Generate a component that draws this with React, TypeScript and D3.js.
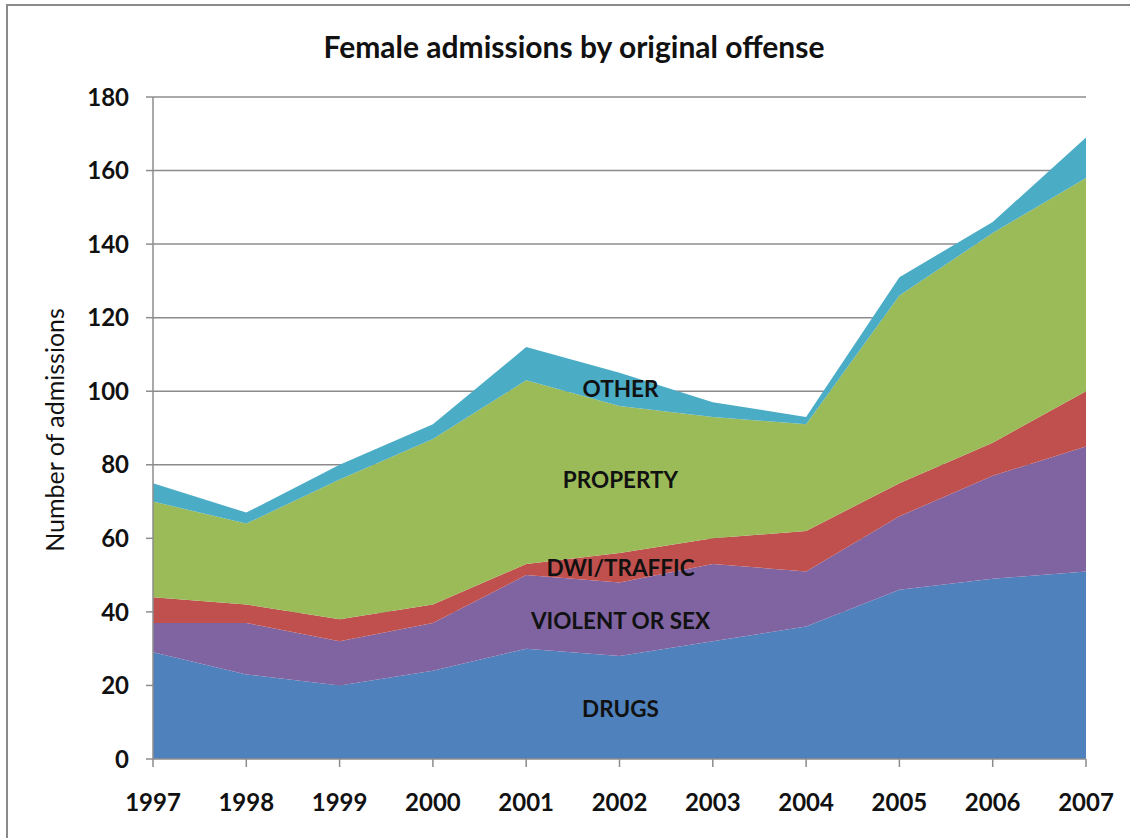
import React from "react";
import * as d3 from "d3";

const years = ["1997","1998","1999","2000","2001","2002","2003","2004","2005","2006","2007"];
const drugs = [29, 23, 20, 24, 30, 28, 32, 36, 46, 49, 51];
const violent = [8, 14, 12, 13, 20, 20, 21, 15, 20, 28, 34];
const dwi = [7, 5, 6, 5, 3, 8, 7, 11, 9, 9, 15];
const property = [26, 22, 38, 45, 50, 40, 33, 29, 51, 57, 58];
const other = [5, 3, 4, 4, 9, 9, 4, 2, 5, 3, 11];
const seriesNames = ["DRUGS", "VIOLENT OR SEX", "DWI/TRAFFIC", "PROPERTY", "OTHER"];
const seriesColors = ["#4F81BD", "#8064A2", "#C0504D", "#9BBB59", "#4BACC6"];
const yTicks = [0, 20, 40, 60, 80, 100, 120, 140, 160, 180];
const labelYears = ["2002", "2002", "2002", "2002", "2002"];
const labelValues = [13.5, 37.5, 52, 76, 100.5];

export default function App() {
  const W = 1130, H = 838;
  const x = d3.scalePoint<string>().domain(years).range([153, 1086]);
  const y = d3.scaleLinear().domain([0, 180]).range([759, 97]);
  const rows = years.map((yr, i) => ({
    year: yr,
    "DRUGS": drugs[i],
    "VIOLENT OR SEX": violent[i],
    "DWI/TRAFFIC": dwi[i],
    "PROPERTY": property[i],
    "OTHER": other[i],
  }));
  const stack = d3.stack<any>().keys(seriesNames);
  const layers = stack(rows);
  const area = d3.area<any>()
    .x((d) => x(d.data.year) as number)
    .y0((d) => y(d[0]))
    .y1((d) => y(d[1]));
  const font = "Lato, 'Open Sans', sans-serif";
  return (
    <div style={{ position: "absolute", left: 0, top: 0 }}>
      <svg width={W} height={H} style={{ display: "block", background: "#fff" }}>
        <rect x={7} y={5} width={W + 20} height={H + 20} fill="#fff" stroke="#8a8a8a" strokeWidth={2} />
        <text x={574} y={47} dy="0.36em" textAnchor="middle" fontFamily={font} fontWeight="bold" fontSize={30} fill="#111">
          Female admissions by original offense
        </text>
        {yTicks.map((t) => (
          <g key={t}>
            {t > 0 && <line x1={153} x2={1086} y1={y(t)} y2={y(t)} stroke="#8c8c8c" strokeWidth={1.5} />}
            <line x1={146} x2={153} y1={y(t)} y2={y(t)} stroke="#8c8c8c" strokeWidth={1.5} />
            <text x={129} y={y(t)} dy="0.36em" textAnchor="end" fontFamily={font} fontWeight="bold" fontSize={24} fill="#111">
              {t}
            </text>
          </g>
        ))}
        {layers.map((layer, i) => (
          <path key={seriesNames[i]} d={area(layer) as string} fill={seriesColors[i]} />
        ))}
        <line x1={153} x2={153} y1={97} y2={759} stroke="#8c8c8c" strokeWidth={1.5} />
        <line x1={153} x2={1086} y1={759} y2={759} stroke="#8c8c8c" strokeWidth={1.5} />
        {years.map((yr) => (
          <g key={yr}>
            <line x1={x(yr)} x2={x(yr)} y1={759} y2={767} stroke="#8c8c8c" strokeWidth={1.5} />
            <text x={x(yr)} y={802} dy="0.36em" textAnchor="middle" fontFamily={font} fontWeight="bold" fontSize={24} fill="#111">
              {yr}
            </text>
          </g>
        ))}
        <text transform={`translate(55,430) rotate(-90)`} textAnchor="middle" dy="0.36em" fontFamily={font} fontSize={25} fill="#111">
          Number of admissions
        </text>
        {seriesNames.map((n, i) => (
          <text key={n} x={(x(labelYears[i]) as number) + 1} y={y(labelValues[i])} dy="0.36em" textAnchor="middle" fontFamily={font} fontWeight="bold" fontSize={22.5} fill="#111">
            {n}
          </text>
        ))}
      </svg>
    </div>
  );
}
